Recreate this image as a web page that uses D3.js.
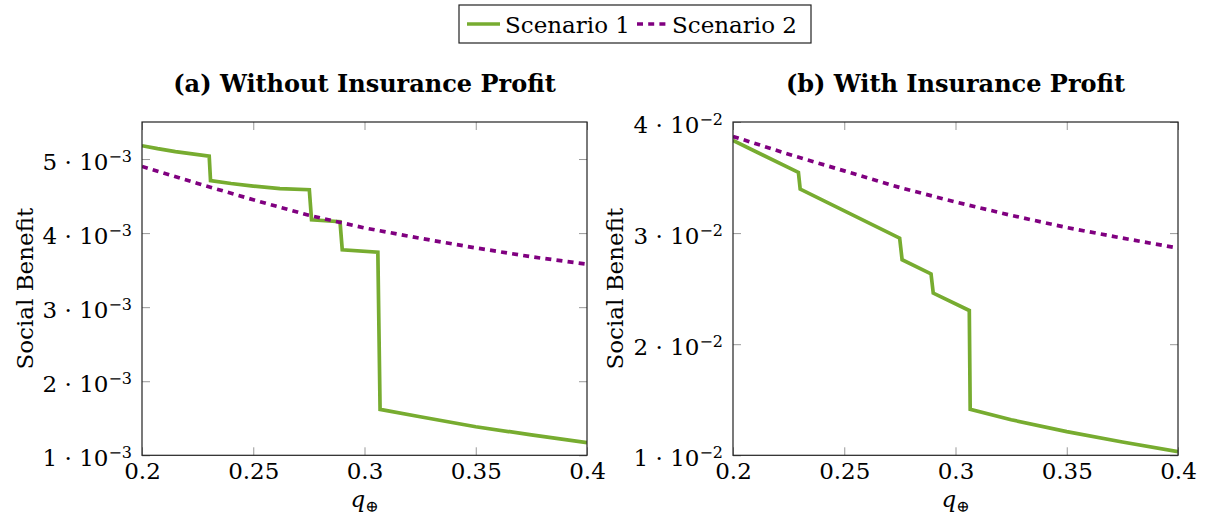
<!DOCTYPE html>
<html>
<head>
<meta charset="utf-8">
<script src="https://cdn.jsdelivr.net/npm/d3@7"></script>
<style>
  body { margin: 0; background: #fff; }
  svg text { font-family: "DejaVu Serif", serif; fill: #000; }
</style>
</head>
<body>
<svg id="chart" width="1205" height="521"></svg>
<script>
// ---- data ----
var qTicks = [0.2, 0.25, 0.3, 0.35, 0.4];
var qTickLabels = ["0.2", "0.25", "0.3", "0.35", "0.4"];
var sbTicksA = [1e-3, 2e-3, 3e-3, 4e-3, 5e-3];
var sbTicksB = [1e-2, 2e-2, 3e-2, 4e-2];
var seriesNames = ["Scenario 1", "Scenario 2"];
var panelTitles = ["(a) Without Insurance Profit", "(b) With Insurance Profit"];

// (a) without insurance profit
var qA1  = [0.2, 0.207, 0.215, 0.2302, 0.2308, 0.24, 0.25, 0.262, 0.2752, 0.2762, 0.289, 0.290, 0.306, 0.307, 0.325, 0.35, 0.375, 0.4];
var sbA1 = [5.18e-3, 5.14e-3, 5.10e-3, 5.04e-3, 4.71e-3, 4.67e-3, 4.635e-3, 4.60e-3, 4.585e-3, 4.18e-3, 4.153e-3, 3.775e-3, 3.743e-3, 1.62e-3, 1.52e-3, 1.386e-3, 1.275e-3, 1.17e-3];
var qA2  = [0.2, 0.225, 0.25, 0.275, 0.3, 0.325, 0.35, 0.375, 0.4];
var sbA2 = [4.90e-3, 4.67e-3, 4.45e-3, 4.24e-3, 4.07e-3, 3.93e-3, 3.80e-3, 3.68e-3, 3.58e-3];

// (b) with insurance profit
var qB1  = [0.2, 0.2294, 0.2302, 0.2749, 0.2760, 0.289, 0.290, 0.3062, 0.3066, 0.325, 0.35, 0.375, 0.4];
var sbB1 = [3.834e-2, 3.546e-2, 3.396e-2, 2.955e-2, 2.76e-2, 2.633e-2, 2.46e-2, 2.303e-2, 1.414e-2, 1.32e-2, 1.213e-2, 1.12e-2, 1.032e-2];
var qB2  = [0.2, 0.225, 0.25, 0.275, 0.3, 0.325, 0.35, 0.375, 0.4];
var sbB2 = [3.87e-2, 3.71e-2, 3.56e-2, 3.41e-2, 3.28e-2, 3.16e-2, 3.05e-2, 2.955e-2, 2.865e-2];

var colors = {"Scenario 1": "#77ac30", "Scenario 2": "#800080"};
var dash = {"Scenario 1": null, "Scenario 2": "6,5.2"};

var svg = d3.select("#chart");
var top0 = 122, bottom0 = 455.3;

var panels = [
  {x0: 142, x1: 587, ymin: 1e-3, ymax: 5.5e-3, ticks: sbTicksA, exp: -3, ylabX: 33,
   title: panelTitles[0], series: [[qA1, sbA1], [qA2, sbA2]]},
  {x0: 733, x1: 1178, ymin: 1e-2, ymax: 4e-2, ticks: sbTicksB, exp: -2, ylabX: 623,
   title: panelTitles[1], series: [[qB1, sbB1], [qB2, sbB2]]}
];

panels.forEach(function(p, pi) {
  var x = d3.scaleLinear().domain([0.2, 0.4]).range([p.x0, p.x1]);
  var y = d3.scaleLinear().domain([p.ymin, p.ymax]).range([bottom0, top0]);
  var cx = (p.x0 + p.x1) / 2;

  // clip to the axis box
  svg.append("clipPath").attr("id", "clip" + pi)
    .append("rect")
    .attr("x", p.x0).attr("y", top0)
    .attr("width", p.x1 - p.x0).attr("height", bottom0 - top0);

  // bottom axis with labels
  var gx = svg.append("g")
    .attr("transform", "translate(0," + bottom0 + ")")
    .call(d3.axisBottom(x).tickValues(qTicks).tickSize(-8).tickSizeOuter(0).tickPadding(7)
      .tickFormat(function(d, i) { return qTickLabels[i]; }));
  // top axis, ticks only
  var gxt = svg.append("g")
    .attr("transform", "translate(0," + top0 + ")")
    .call(d3.axisTop(x).tickValues(qTicks).tickSize(-8).tickSizeOuter(0).tickFormat(""));
  // left axis with labels
  var gy = svg.append("g")
    .attr("transform", "translate(" + p.x0 + ",0)")
    .call(d3.axisLeft(y).tickValues(p.ticks).tickSize(-8).tickSizeOuter(0).tickPadding(10));
  // right axis, ticks only
  var gyr = svg.append("g")
    .attr("transform", "translate(" + p.x1 + ",0)")
    .call(d3.axisRight(y).tickValues(p.ticks).tickSize(-8).tickSizeOuter(0).tickFormat(""));

  [gx, gxt, gy, gyr].forEach(function(g) {
    g.attr("font-family", null).attr("font-size", 23);
    g.select(".domain").remove();
    g.selectAll(".tick line").attr("stroke", "#999").attr("stroke-width", 1);
    g.selectAll(".tick text").attr("fill", "#000");
  });

  // y labels as  m · 10^e
  gy.selectAll(".tick text").each(function(d) {
    var t = d3.select(this);
    var m = Math.round(d / Math.pow(10, p.exp));
    t.text(null).attr("dy", "0.45em");
    t.append("tspan").text(m + " \u00b7 10");
    t.append("tspan").attr("dy", -8).attr("font-size", 16).text("\u2212" + (-p.exp));
  });

  // series
  var line = d3.line()
    .x(function(d) { return x(d[0]); })
    .y(function(d) { return y(d[1]); });

  var lines = svg.append("g").attr("clip-path", "url(#clip" + pi + ")");
  p.series.forEach(function(s, si) {
    var name = seriesNames[si];
    lines.append("path")
      .datum(d3.zip(s[0], s[1]))
      .attr("d", line)
      .attr("fill", "none")
      .attr("stroke", colors[name])
      .attr("stroke-width", 3.7)
      .attr("stroke-dasharray", dash[name]);
  });

  // frame
  svg.append("rect")
    .attr("x", p.x0).attr("y", top0)
    .attr("width", p.x1 - p.x0).attr("height", bottom0 - top0)
    .attr("fill", "none").attr("stroke", "#222").attr("stroke-width", 1.2);

  // title
  svg.append("text")
    .attr("x", cx).attr("y", 92)
    .attr("text-anchor", "middle")
    .attr("font-size", 24).attr("font-weight", "bold")
    .text(p.title);

  // y axis label
  svg.append("text")
    .attr("transform", "translate(" + p.ylabX + "," + ((top0 + bottom0) / 2) + ") rotate(-90)")
    .attr("text-anchor", "middle")
    .attr("font-size", 23)
    .text("Social Benefit");

  // x axis label  q_⊕
  var xl = svg.append("text")
    .attr("x", cx).attr("y", 507)
    .attr("text-anchor", "middle")
    .attr("font-size", 23);
  xl.append("tspan").attr("font-style", "italic").text("q");
  xl.append("tspan").attr("dy", 5).attr("font-size", 16).text("\u2295");
});

// legend
var legend = svg.append("g");
legend.append("rect")
  .attr("x", 459).attr("y", 5).attr("width", 352).attr("height", 38)
  .attr("fill", "#fff").attr("stroke", "#222").attr("stroke-width", 1.2);
var legX = [467, 637];
seriesNames.forEach(function(name, i) {
  legend.append("line")
    .attr("x1", legX[i]).attr("x2", legX[i] + (i == 0 ? 33 : 30))
    .attr("y1", 24).attr("y2", 24)
    .attr("stroke", colors[name])
    .attr("stroke-width", 3.7)
    .attr("stroke-dasharray", dash[name]);
  legend.append("text")
    .attr("x", legX[i] + (i == 0 ? 38 : 35)).attr("y", 33)
    .attr("font-size", 23)
    .text(name);
});
</script>
</body>
</html>
